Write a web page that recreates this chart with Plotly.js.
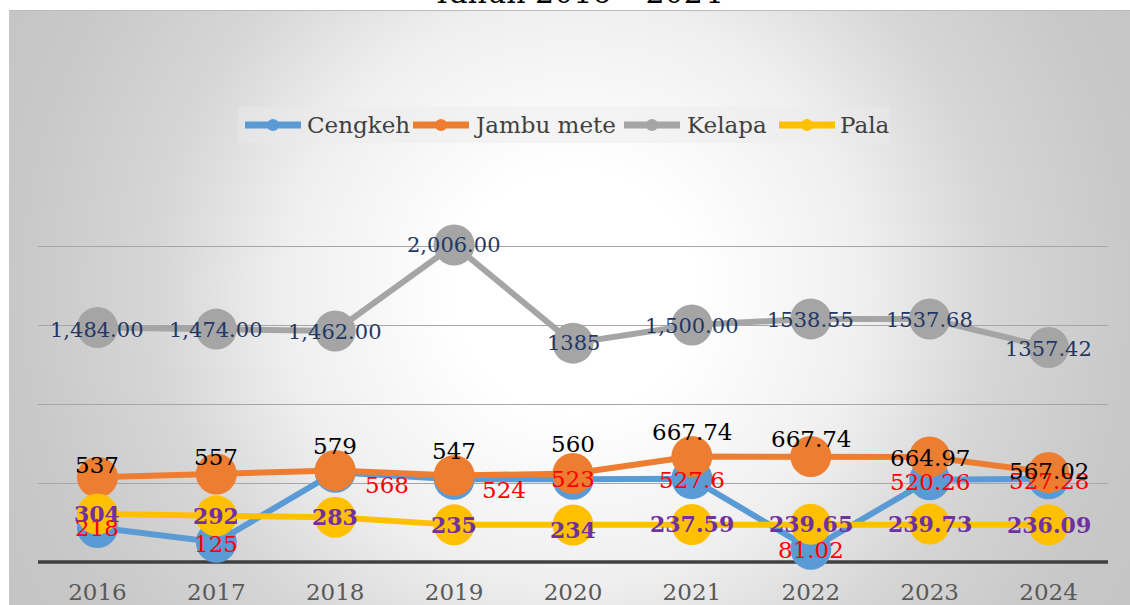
<!DOCTYPE html>
<html><head><meta charset="utf-8">
<script src="https://cdn.plot.ly/plotly-3.0.1.min.js"></script>
<style>
html,body{margin:0;padding:0;background:#fff;width:1130px;height:605px;overflow:hidden}
#frame{position:absolute;left:9px;top:10px;width:1121px;height:595px;
 background:radial-gradient(circle at 566px 280px,#ffffff 0px,#ffffff 120px,#efefef 290px,#d6d6d6 420px,#c8c8c8 560px,#c4c4c4 660px);
 border-top:1px solid #bcbcbc;box-sizing:border-box}
#chart{position:absolute;left:0;top:0;width:1130px;height:605px}
</style></head><body>
<div id="frame"></div><div id="chart"></div>
<script>
// ---- data ----
const years = ['2016','2017','2018','2019','2020','2021','2022','2023','2024'];
const cengkeh   = [218, 125, 568, 524, 523, 527.6, 81.02, 520.26, 527.28];
const jambuMete = [537, 557, 579, 547, 560, 667.74, 667.74, 664.97, 567.02];
const kelapa    = [1484, 1474, 1462, 2006, 1385, 1500, 1538.55, 1537.68, 1357.42];
const pala      = [304, 292, 283, 235, 234, 237.59, 239.65, 239.73, 236.09];
const cengkehLabels = ['218','125','568','524','523','527.6','81.02','520.26','527.28'];
const jambuLabels   = ['537','557','579','547','560','667.74','667.74','664.97','567.02'];
const kelapaLabels  = ['1,484.00','1,474.00','1,462.00','2,006.00','1385','1,500.00','1538.55','1537.68','1357.42'];
const palaLabels    = ['304','292','283','235','234','237.59','239.65','239.73','236.09'];
const seriesNames = ['Cengkeh','Jambu mete','Kelapa','Pala'];
const titleText = 'Tahun 2016 – 2024';
const gridVals = [500, 1000, 1500, 2000, 2500];

// ---- style ----
const FONT = 'DejaVu Serif, Liberation Serif, serif';
const colors = ['#5b9bd5','#ed7d31','#a5a5a5','#ffc000'];
const W = 1130, H = 605, M = {l:38, r:22, t:167, b:43};
const PW = W - M.l - M.r, PH = H - M.t - M.b;
const px2x = p => (p - M.l) / PW;
const py2y = p => (H - M.b - p) / PH;

const seriesVals = [cengkeh, jambuMete, kelapa, pala];
const traces = seriesVals.map((v, i) => ({
  type:'scatter', mode:'lines+markers', x: years, y: v, name: seriesNames[i],
  line:{color:colors[i], width:6}, marker:{color:colors[i], size:41},
  cliponaxis:false, showlegend:false, hoverinfo:'skip'
}));

// label styles (pixel shifts of each data label relative to its point)
const labelSets = [
  {vals:cengkeh, text:cengkehLabels, font:{family:FONT,size:23,color:'#ff0000'},
   dx:[0,0,52,50,0,0,0,0,0], dy:[0,-1.5,-13,-11,0,-1,-1,-2,-2]},
  {vals:pala, text:palaLabels, font:{family:FONT,size:22,color:'#7030a0',weight:'bold'},
   dx:[0,0,0,0,0,0,0,0,0], dy:[0,0,0,0,-5,0,0,0,0]},
  {vals:kelapa, text:kelapaLabels, font:{family:FONT,size:21,color:'#1f3864'},
   dx:[0,0,0,0,0,0,0,0,0], dy:[-2,-1,-1,0,0,-1,-1,-1,-1]},
  {vals:jambuMete, text:jambuLabels, font:{family:FONT,size:23,color:'#000000'},
   dx:[0,0,0,0,0,0,0,0,0], dy:[12,17,25,25,30,24.5,17.5,-1,1]}
];
const annotations = [];
labelSets.forEach(s => {
  years.forEach((yr, j) => {
    // category axis: annotation x is the category's serial index
    annotations.push({x:j, y:s.vals[j], xref:'x', yref:'y', text:s.text[j],
      showarrow:false, xanchor:'center', yanchor:'middle',
      xshift:s.dx[j], yshift:s.dy[j], font:s.font});
  });
});

// title (mostly above the visible page, as in the reference)
annotations.push({text:titleText, xref:'paper', yref:'paper', x:px2x(577), y:py2y(-8),
  xanchor:'center', yanchor:'middle', showarrow:false,
  font:{family:FONT, size:30, color:'#000000'}});

// custom legend
const legSymX = [245, 413, 624, 779], legTextX = [305, 472, 685, 838], legY = 125;
const shapes = [
  {type:'rect', xref:'paper', yref:'paper', x0:px2x(238), x1:px2x(890), y0:py2y(143), y1:py2y(107),
   fillcolor:'rgba(236,236,236,0.45)', line:{width:0}, layer:'below'},
  // category axis baseline (bottom of the plot area, value 0)
  {type:'line', xref:'paper', yref:'paper', x0:0, x1:1, y0:0, y1:0, line:{color:'#404040', width:3.5}, layer:'below'}
];
seriesNames.forEach((n, i) => {
  shapes.push({type:'line', xref:'paper', yref:'paper', x0:px2x(legSymX[i]), x1:px2x(legSymX[i]+56),
    y0:py2y(legY), y1:py2y(legY), line:{color:colors[i], width:7}});
  const cx = legSymX[i] + 28, r = 6;
  shapes.push({type:'circle', xref:'paper', yref:'paper', x0:px2x(cx-r), x1:px2x(cx+r),
    y0:py2y(legY+r), y1:py2y(legY-r), fillcolor:colors[i], line:{width:0}});
  annotations.push({text:n, xref:'paper', yref:'paper', x:px2x(legTextX[i]), y:py2y(legY),
    xanchor:'left', yanchor:'middle', showarrow:false,
    font:{family:FONT, size:23, color:'#404040'}});
});

const layout = {
  width:W, height:H, margin:M,
  paper_bgcolor:'rgba(0,0,0,0)', plot_bgcolor:'rgba(0,0,0,0)',
  showlegend:false,
  xaxis:{type:'category', categoryorder:'array', categoryarray:years, range:[-0.5, years.length-0.5],
    autorange:false, showgrid:false, zeroline:false, showline:false, ticks:'',
    tickfont:{family:FONT, size:23, color:'#595959'}, ticklabelstandoff:14, fixedrange:true},
  yaxis:{range:[0,2500], autorange:false, tickmode:'array', tickvals:gridVals,
    showgrid:true, gridcolor:'#a6a6a6', gridwidth:1,
    zeroline:false, showline:false, showticklabels:false, ticks:'', fixedrange:true},
  shapes:shapes, annotations:annotations
};
Plotly.newPlot('chart', traces, layout, {staticPlot:true, displayModeBar:false});
</script>
</body></html>
